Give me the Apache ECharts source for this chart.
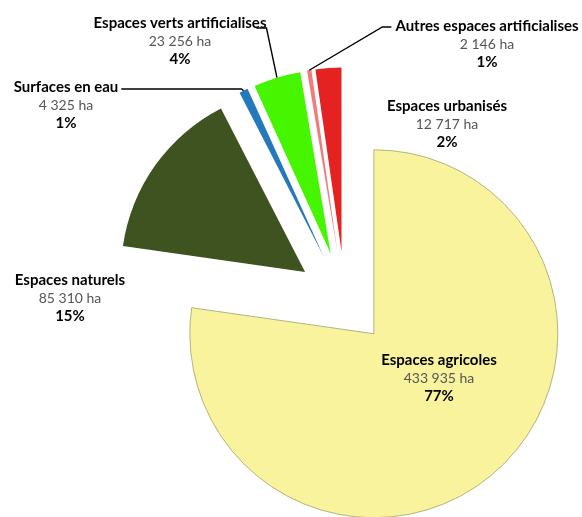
<!DOCTYPE html>
<html>
<head>
<meta charset="utf-8">
<script src="https://cdn.jsdelivr.net/npm/echarts@6/dist/echarts.min.js"></script>
<style>html,body{margin:0;padding:0;background:#fff}#c{width:582px;height:517px}</style>
</head>
<body>
<div id="c"></div>
<script>
// ---- data ----
const categories = ['Espaces agricoles', 'Espaces naturels', 'Surfaces en eau', 'Espaces verts artificialises', 'Autres espaces artificialises', 'Espaces urbanisés'];
const areaHa = [433935, 85310, 4325, 23256, 2146, 12717];
const percentLabels = ['77%', '15%', '1%', '4%', '1%', '2%'];

// ---- styles / layout ----
const colors = ['#f8f39c', '#3f5321', '#2479bc', '#46f500', '#f27a7a', '#e42222'];
const labelPos = [[439, 378], [70, 298], [66, 105], [180, 41], [487, 44], [447, 124]];
const lineKind = [null, null, 'left', 'up', 'right', null];
const groups = [{ items: [0], offset: 44 }, { items: [1, 2, 3, 4, 5], offset: 49 }];
const CENTER = [345, 300.5], R = 184, LINE_H = 18, NAME_FONT = 'bold 15px Lato';

function fmt(n) { return String(n).replace(/\B(?=(\d{3})+(?!\d))/g, ' '); }
const mctx = document.createElement('canvas').getContext('2d');
function nameWidth(t) { mctx.font = NAME_FONT; return mctx.measureText(t).width; }

const chart = echarts.init(document.getElementById('c'), null, { renderer: 'canvas' });

// exploded slices
const series = groups.map(function (g) {
  return {
    type: 'pie',
    center: CENTER,
    radius: [0, R],
    startAngle: 90,
    clockwise: true,
    selectedMode: 'multiple',
    selectedOffset: g.offset,
    animation: false,
    label: { show: false },
    labelLine: { show: false },
    data: categories.map(function (name, i) {
      const vis = g.items.indexOf(i) >= 0;
      return {
        name: name,
        value: areaHa[i],
        selected: vis,
        itemStyle: vis ? {
          color: colors[i],
          borderColor: i === 0 ? 'rgba(150,145,95,0.85)' : 'rgba(0,0,0,0)',
          borderWidth: i === 0 ? 0.8 : 0
        } : { color: 'rgba(0,0,0,0)', borderWidth: 0 }
      };
    })
  };
});

// label carrier (same angles, radius reaching the exploded outer arcs)
series.push({
  type: 'pie',
  center: CENTER,
  radius: [0, R + 49],
  startAngle: 90,
  clockwise: true,
  selectedMode: false,
  animation: false,
  silent: true,
  z: 5,
  itemStyle: { color: 'rgba(0,0,0,0)', borderWidth: 0 },
  data: categories.map(function (name, i) {
    return {
      name: name,
      value: areaHa[i],
      label: { formatter: '{n|' + name + '}\n{v|' + fmt(areaHa[i]) + ' ha}\n{p|' + percentLabels[i] + '}' },
      labelLine: { show: !!lineKind[i] }
    };
  }),
  label: {
    show: true,
    position: 'outside',
    width: 240,
    align: 'center',
    rich: {
      n: { fontFamily: 'Lato', fontWeight: 'bold', fontSize: 15, color: '#000', lineHeight: LINE_H, align: 'center', width: 240 },
      v: { fontFamily: 'Lato', fontSize: 14, color: '#555', lineHeight: LINE_H, align: 'center', width: 240 },
      p: { fontFamily: 'Lato', fontWeight: 'bold', fontSize: 15, color: '#000', lineHeight: LINE_H, align: 'center', width: 240 }
    }
  },
  labelLine: { length: 10, length2: 10, smooth: false, lineStyle: { color: '#000', width: 1.4 } },
  labelLayout: function (params) {
    const i = params.dataIndex;
    const p = labelPos[i];
    const out = { x: p[0], y: p[1], align: 'center', verticalAlign: 'middle' };
    const kind = lineKind[i];
    if (kind && params.labelLinePoints) {
      const a = params.labelLinePoints[0];
      const w = nameWidth(categories[i]);
      const ny = p[1] - LINE_H;
      const left = p[0] - w / 2, right = p[0] + w / 2;
      if (kind === 'left') {
        out.labelLinePoints = [a, [a[0] - 2, ny + 2], [right + 3, ny + 2]];
      } else if (kind === 'up') {
        out.labelLinePoints = [a, [right, ny + 5], [right - 10, ny + 5]];
      } else {
        out.labelLinePoints = [a, [left - 13, ny + 1], [left - 4, ny + 1]];
      }
    }
    return out;
  }
});

chart.setOption({ backgroundColor: '#fff', animation: false, series: series });
</script>
</body>
</html>
